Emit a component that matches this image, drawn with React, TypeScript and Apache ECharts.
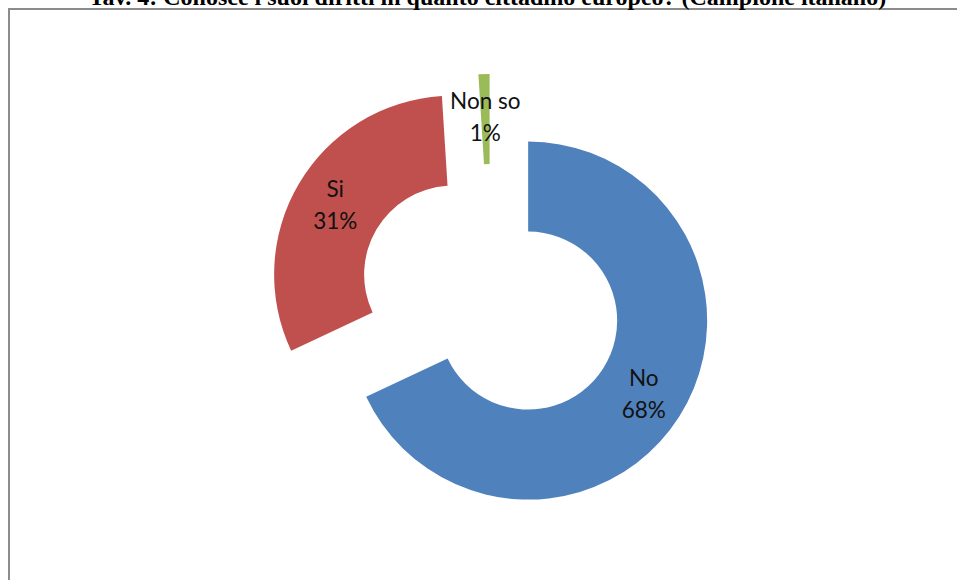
import React, { useEffect, useRef } from "react";
import * as echarts from "echarts";

const titleText = "Tav. 4: Conosce i suoi diritti in quanto cittadino europeo? (Campione italiano)";
const categories = ["No", "Si", "Non so"];
const values = [68, 31, 1];
const colors = ["#4F81BD", "#C0504D", "#9BBB59"];

export default function App() {
  const ref = useRef<HTMLDivElement>(null);
  useEffect(() => {
    if (!ref.current) return;
    const chart = echarts.init(ref.current, null, { renderer: "svg" });
    chart.setOption({
      animation: false,
      backgroundColor: "#ffffff",
      graphic: [
        {
          type: "rect",
          shape: { x: 9, y: 9, width: 1000, height: 1000 },
          style: { fill: "none", stroke: "#8c8c8c", lineWidth: 2 },
          z: 0,
        },
        {
          type: "text",
          x: 487.5,
          y: -3,
          style: {
            text: titleText,
            font: "bold 24px 'Liberation Serif', 'Times New Roman', serif",
            fill: "#000000",
            textAlign: "center",
            textVerticalAlign: "middle",
          },
          z: 10,
        },
      ],
      series: [
        {
          type: "pie",
          center: [491, 297],
          radius: [89, 179],
          startAngle: 90,
          clockwise: true,
          selectedMode: "multiple",
          selectedOffset: 44,
          avoidLabelOverlap: false,
          emphasis: { disabled: true },
          label: {
            show: true,
            position: "inside",
            formatter: "{b}\n{d}%",
            fontFamily: "Lato, 'Open Sans', sans-serif",
            fontSize: 22.5,
            lineHeight: 32,
            color: "#111111",
          },
          labelLine: { show: false },
          data: categories.map((c, i) => ({
            name: c,
            value: values[i],
            selected: true,
            itemStyle: { color: colors[i] },
          })),
        },
      ],
    });
    return () => chart.dispose();
  }, []);
  return (
    <div
      ref={ref}
      style={{ position: "fixed", left: 0, top: 0, width: 957, height: 580 }}
    />
  );
}
